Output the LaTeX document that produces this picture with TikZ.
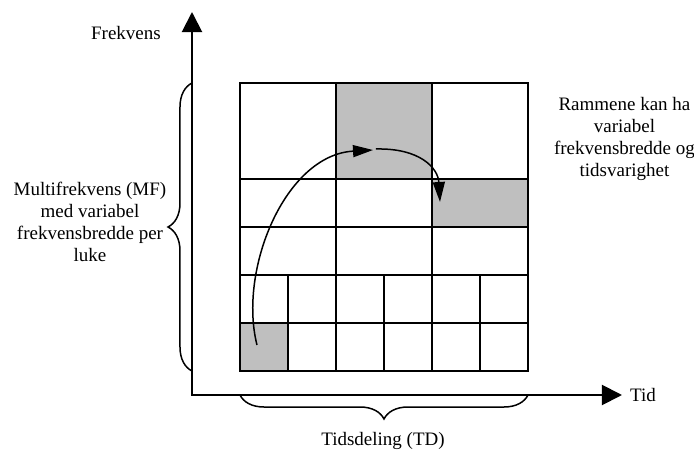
\documentclass[tikz,border=0pt]{standalone}
\usepackage{fontspec}
\setmainfont{Liberation Serif}
\usetikzlibrary{arrows.meta,decorations.pathreplacing,positioning}

\tikzset{
  akse/.style={line width=2pt,line join=miter,
    {Triangle[length=20pt,width=20pt]}-{Triangle[length=20pt,width=20pt]}},
  rute/.style={line width=1.5pt},
  hopp/.style={line width=1.5pt,-{Triangle[length=20pt,width=12pt]}},
  klamme/.style={line width=1.5pt,decorate,decoration={brace,amplitude=24pt}},
  tekst/.style={font=\fontsize{19}{22}\selectfont,align=center,inner sep=0pt},
}

\begin{document}
\begin{tikzpicture}[x=48pt,y=48pt]
\useasboundingbox (-5,-1.6458) rectangle (9.4583,7.7292);
\fill[black!25] (0,0) rectangle (1,1);		%første luke
\fill[black!25] (2,4) rectangle (4,6);		%bred ramme
\fill[black!25] (4,3) rectangle (6,4);		%neste ramme
\draw[rute] (0,0) rectangle (6,6);
\foreach \y in {1,2,3,4}
  \draw[rute] (0,\y) -- (6,\y);
\foreach \x in {1,3,5}
  \draw[rute] (\x,0) -- (\x,2);			%korte luker
\foreach \x in {2,4}
  \draw[rute] (\x,0) -- (\x,6);
\coordinate (origo) at (-1,-0.5);
\coordinate (ytopp) at (-1,7.479);
\coordinate (xende) at (7.958,-0.5);
\draw[akse] (ytopp) -- (origo) -- (xende);
\coordinate (mfbunn) at (-1,0);
\coordinate (mftopp) at (-1,6);
\draw[klamme] (mfbunn) -- (mftopp);		%MF
\coordinate (tdstart) at (0,-0.5);
\coordinate (tdslutt) at (6,-0.5);
\draw[klamme] (tdslutt) -- (tdstart);		%TD
\coordinate (start) at (0.354,0.542);
\coordinate (midt) at (2.771,4.604);
\coordinate (videre) at (2.833,4.625);
\coordinate (slutt) at (4.167,3.521);
\draw[hopp] (start) .. controls (-0.042,2.104) and (0.9375,4.5) .. (midt);
\draw[hopp] (videre) .. controls (3.75,4.646) and (4.125,4.229) .. (slutt);
\draw (-2.375,7.04) node[tekst] (frekvens) {Frekvens};
\node[tekst,right=8pt of xende] (tid) {Tid};
\draw (-3.125,3.10) node[tekst] (mf) {Multifrekvens (MF)\\med variabel\\frekvensbredde per\\luke};
\draw (2.98,-1.458) node[tekst] (td) {Tidsdeling (TD)};
\draw (8.01,4.84) node[tekst] (rammer) {Rammene kan ha\\variabel\\frekvensbredde og\\tidsvarighet};
\end{tikzpicture}
\end{document}
